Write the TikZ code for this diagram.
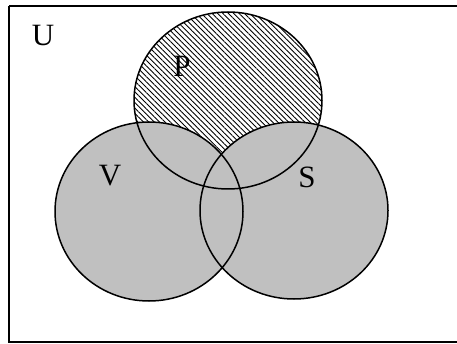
\documentclass[tikz,border=0pt]{standalone}
\usepackage{fontspec}
\setmainfont{Liberation Serif}
\usetikzlibrary{patterns.meta}
\definecolor{setgray}{HTML}{C0C0C0}
\tikzset{
  setline/.style={draw=black, line width=1.5pt},
  setlabel/.style={inner sep=0pt, font=\fontsize{31}{36}\selectfont},
}
\begin{document}
\begin{tikzpicture}[x=1pt,y=-1pt]
\useasboundingbox (0,0) rectangle (457,344);
\draw[line width=2pt] (9,6.5) -- (462,6.5) (9,6.5) -- (9,341.5) -- (462,341.5);
% hatched P
\path[pattern={Lines[angle=-45,distance=3.8pt,line width=0.9pt]}] (228,100.5) ellipse [x radius=94, y radius=88.5];
% gray V and S
\path[fill=setgray] (149,211.5) ellipse [x radius=94, y radius=89.5];
\path[fill=setgray] (294,210.5) ellipse [x radius=94, y radius=88.5];
% outlines
\draw[setline] (228,100.5) ellipse [x radius=94, y radius=88.5];
\draw[setline] (149,211.5) ellipse [x radius=94, y radius=89.5];
\draw[setline] (294,210.5) ellipse [x radius=94, y radius=88.5];
\node[setlabel] (U) at (43,36) {U};
\node[setlabel] (P) at (182,66) {P};
\node[setlabel] (V) at (110,176) {V};
\node[setlabel] (S) at (307,177) {S};
\end{tikzpicture}
\end{document}
